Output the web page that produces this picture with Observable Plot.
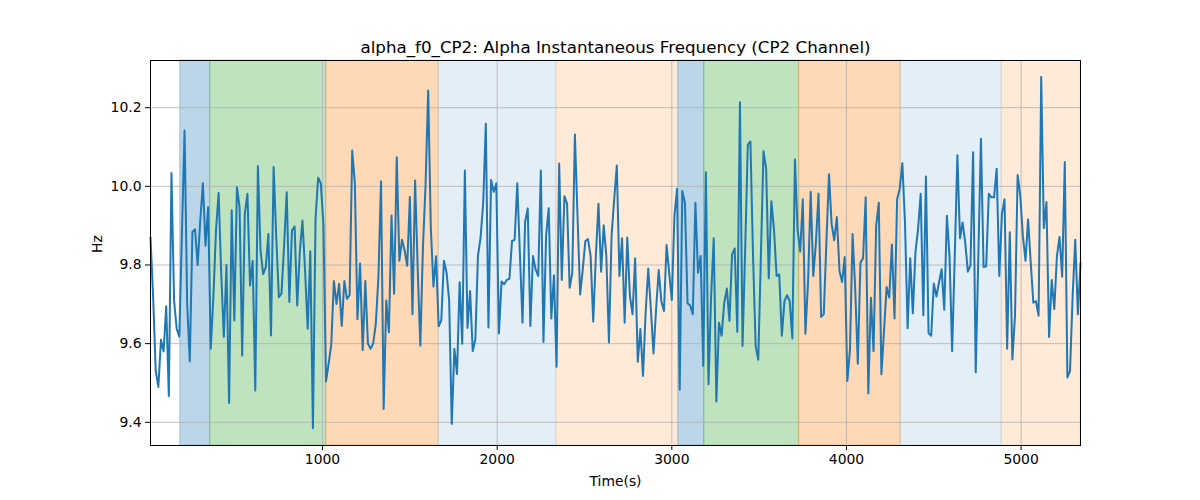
<!DOCTYPE html>
<html><head><meta charset="utf-8">
<script src="https://cdn.jsdelivr.net/npm/d3@7"></script>
<script src="https://cdn.jsdelivr.net/npm/@observablehq/plot@0.6"></script>
<style>body{margin:0;background:#fff} svg{font-family:"DejaVu Sans",sans-serif}</style>
</head><body><div id="chart"></div>
<script>
const chartTitle = "alpha_f0_CP2: Alpha Instantaneous Frequency (CP2 Channel)";
const xLabel = "Time(s)";
const yLabel = "Hz";
const startTime = 15;
const sampleStep = 15;
const hz = [
9.87, 9.72, 9.53, 9.49, 9.61, 9.58, 9.695, 9.467, 10.034, 9.71, 9.638, 9.618, 9.88, 10.142,
9.70, 9.555, 9.884, 9.891, 9.80, 9.913, 10.008, 9.849, 9.947, 9.587,
9.718, 9.888, 9.983, 9.777, 9.617, 9.80, 9.449, 9.939, 9.659, 9.998,
9.947, 9.57, 9.93, 9.981, 9.748, 9.811, 9.481, 10.051, 9.837, 9.777,
9.794, 9.879, 9.621, 10.049, 9.871, 9.718, 9.727, 9.85, 9.985, 9.706,
9.888, 9.898, 9.697, 9.833, 9.913, 9.786, 9.638, 9.835, 9.385, 9.918,
10.022, 10.008, 9.905, 9.504, 9.549, 9.598, 9.759, 9.701, 9.752, 9.645,
9.759, 9.714, 9.723, 10.091, 10.008, 9.662, 9.804, 9.583, 9.759, 9.6,
9.587, 9.6, 9.65, 9.769, 10.013, 9.434, 9.71, 9.629, 9.926, 9.727,
10.074, 9.811, 9.864, 9.837, 9.798, 9.973, 9.675, 10.015, 9.79, 9.595,
9.845, 10.005, 10.244, 9.896, 9.745, 9.822, 9.644, 9.659, 9.811, 9.781,
9.71, 9.396, 9.587, 9.523, 9.756,
9.60, 10.04, 9.64, 9.734, 9.581, 9.611, 9.823, 9.87, 9.958, 10.159,
9.641, 10.016, 9.986, 10.008, 9.626, 9.758, 9.751, 9.762, 9.765, 9.861,
9.864, 10.008, 9.83, 9.653, 9.91, 9.944, 9.645, 9.823, 9.789, 9.772,
10.04, 9.604, 9.874, 9.944, 9.664, 9.774, 9.541, 10.058, 9.762, 9.975,
9.956, 9.742, 9.78, 10.132, 9.925, 9.725, 9.789, 9.861, 9.866, 9.823,
9.656, 9.823, 9.956, 9.783, 9.901, 9.823, 9.603, 9.874, 9.967, 10.053,
9.772, 9.868, 9.653, 9.87, 9.721, 9.675, 9.817, 9.554, 9.637, 9.518,
9.679, 9.791, 9.688, 9.575, 9.688, 9.787, 9.708, 9.683, 9.851, 9.78,
9.711, 9.925, 9.994, 9.483, 9.988, 9.958, 9.703, 9.697, 9.675, 9.958,
9.78, 9.823, 9.543, 10.036, 9.497, 9.721, 9.868, 9.453, 9.653, 9.62,
9.703, 9.74, 9.658, 9.827, 9.842, 9.63, 10.214, 9.594, 9.84, 10.106,
10.114, 9.823, 9.594, 9.559, 9.823, 10.089, 10.045, 9.766, 9.962, 9.89,
9.772, 9.776, 9.62, 9.708, 9.723, 9.708, 9.613, 10.068, 9.89, 9.834,
9.967, 9.625, 9.756, 9.986, 9.772, 9.857, 9.981, 9.668, 9.675, 9.857,
10.031, 9.904, 9.863, 9.922, 9.785, 9.757, 9.82, 9.505, 9.585, 9.879,
9.739, 9.549, 9.806, 9.817, 9.972, 9.473, 9.717, 9.581, 9.9, 9.958,
9.522, 9.633, 9.744, 9.717, 9.852, 9.664, 9.967, 9.994, 10.059, 9.908,
9.639, 9.817, 9.677, 9.833, 9.892, 9.981, 9.672, 10.025, 9.627, 9.62,
9.753, 9.72, 9.756, 9.789, 9.686, 9.925, 9.823, 9.581, 9.823, 10.079,
9.868, 9.908, 9.857, 9.783, 9.799, 10.087, 9.527, 9.823, 10.121, 9.795,
9.797, 9.981, 9.972, 9.972, 10.045, 9.772, 9.93, 9.967, 9.587, 9.883,
9.56, 9.671, 10.029, 9.977, 9.874, 9.811, 9.916, 9.806, 9.704, 9.708,
9.671, 10.278, 9.894, 9.96, 9.617, 9.762, 9.688, 9.823, 9.871, 9.77,
10.062, 9.514, 9.531, 9.721, 9.864, 9.675, 9.805
];
const bandStart = [185, 357, 1021, 1665, 2339, 3037, 3186, 3729, 4310, 4889];
const bandEnd   = [357, 1021, 1665, 2339, 3037, 3186, 3729, 4310, 4889, 5340];
const bandKind  = ["blue", "green", "orange", "lightblue", "lightorange", "blue", "green", "orange", "lightblue", "lightorange"];
const xTicks = [1000, 2000, 3000, 4000, 5000];
const yTicks = [9.4, 9.6, 9.8, 10.0, 10.2];

const series = hz.map((v, i) => ({t: startTime + i * sampleStep, v}));
const xMax = startTime + (hz.length - 1) * sampleStep;
const bands = bandStart.map((s, i) => ({x1: s, x2: bandEnd[i], kind: bandKind[i]}));
const bandStyle = {
  blue: ["#1f77b4", 0.3], green: ["#2ca02c", 0.3], orange: ["#ff7f0e", 0.3],
  lightblue: ["#1f77b4", 0.12], lightorange: ["#ff7f0e", 0.16]
};
const bandMarks = Object.keys(bandStyle).map(k => Plot.rect(bands.filter(b => b.kind === k), {
  x1: "x1", x2: "x2", fill: bandStyle[k][0], fillOpacity: bandStyle[k][1],
  stroke: bandStyle[k][0], strokeOpacity: bandStyle[k][1], strokeWidth: 1
}));

const chart = Plot.plot({
  width: 1200, height: 500,
  marginLeft: 150, marginRight: 120, marginTop: 60, marginBottom: 55,
  style: {fontFamily: "DejaVu Sans, sans-serif", fontSize: "13.9px", color: "black", background: "white"},
  x: {domain: [startTime, xMax], label: null},
  y: {domain: [9.341, 10.32], label: null},
  marks: [
    ...bandMarks,
    Plot.gridX(xTicks, {stroke: "#b0b0b0", strokeOpacity: 1, strokeWidth: 0.8}),
    Plot.gridY(yTicks, {stroke: "#b0b0b0", strokeOpacity: 1, strokeWidth: 0.8}),
    Plot.line(series, {x: "t", y: "v", stroke: "#1f77b4", strokeWidth: 2}),
    Plot.frame({stroke: "black", strokeWidth: 1}),
    Plot.axisX(xTicks, {tickFormat: d => String(d), tickSize: 5, tickPadding: 4, fontSize: 13.9, label: null}),
    Plot.axisY(yTicks, {tickFormat: d3.format(".1f"), tickSize: 5, tickPadding: 4, fontSize: 13.9, label: null}),
    Plot.text([chartTitle], {text: d => d, frameAnchor: "top", dy: -8, lineAnchor: "bottom", fontSize: 16.7, fill: "black"}),
    Plot.text([xLabel], {text: d => d, frameAnchor: "bottom", dy: 36, lineAnchor: "middle", fontSize: 13.9, fill: "black"}),
    Plot.text([yLabel], {text: d => d, frameAnchor: "left", dx: -53, rotate: -90, lineAnchor: "middle", fontSize: 13.9, fill: "black"})
  ]
});
document.getElementById("chart").append(chart);
</script>
</body></html>
